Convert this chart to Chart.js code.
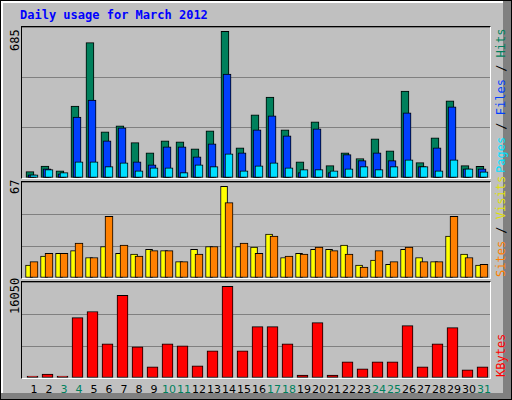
<!DOCTYPE html>
<html>
<head>
<meta charset="utf-8">
<script src="https://cdn.jsdelivr.net/npm/chart.js@4"></script>
<style>
  body { margin: 0; background: #fff; }
  #frame { position: absolute; left: 0; top: 0; width: 512px; height: 400px; box-sizing: border-box;
           background: #c0c0c0; border: 1px solid #000; }
  #bevelR { position: absolute; right: 0; top: 0; width: 8px; height: 100%; background: #808080; }
  #bevelB { position: absolute; left: 0; bottom: 0; height: 6px; width: 100%; background: #808080; }
  #bevelL { position: absolute; left: 0; top: 0; width: 2px; height: 100%; background: #fff; }
  #bevelT { position: absolute; left: 0; top: 0; height: 2px; width: 100%; background: #fff; }
  .box { position: absolute; left: 20px; width: 470px; box-sizing: border-box;
         border-top: 1px solid #000; border-left: 1px solid #000; border-right: 1px solid #fff; border-bottom: 1px solid #fff; }
  .box canvas { display: block; }
  .t { position: absolute; font-family: "DejaVu Sans Mono", monospace; white-space: nowrap; }
  .rot { transform: rotate(-90deg); transform-origin: 0 0; font-size: 12px; line-height: 12px; }
  .day { position: absolute; top: 382px; width: 20px; margin-left: -10px; text-align: center;
         font-family: "DejaVu Sans", sans-serif; font-size: 11px; }
</style>
</head>
<body>
<div id="frame">
  <div id="bevelL"></div><div id="bevelT"></div><div id="bevelR"></div><div id="bevelB"></div>
  <div class="t" style="left:19px;top:7px;font-size:12px;font-weight:bold;color:#0000ff">Daily usage for March 2012</div>
  <div class="box" style="top:25px;height:153px"><canvas id="c1" width="468" height="151"></canvas></div>
  <div class="box" style="top:180px;height:98px"><canvas id="c2" width="468" height="96"></canvas></div>
  <div class="box" style="top:280px;height:98px"><canvas id="c3" width="468" height="96"></canvas></div>
  <div class="t rot" style="left:8px;top:50px">685</div>
  <div class="t rot" style="left:8px;top:193px">67</div>
  <div class="t rot" style="left:8px;top:313px">16050</div>
  <div class="t rot" style="left:494px;top:172px"><span style="color:#00e0ff">Pages</span> / <span style="color:#0040ff">Files</span> / <span style="color:#00805c">Hits</span></div>
  <div class="t rot" style="left:494px;top:276px"><span style="color:#ff8000">Sites</span> / <span style="color:#e0e000">Visits</span></div>
  <div class="t rot" style="left:494px;top:376px"><span style="color:#ff0000">KBytes</span></div>
  <div id="days"></div>
</div>
<script>
const days = [];
for (let d = 1; d <= 31; d++) days.push(d);
const weekend = [3, 4, 10, 11, 17, 18, 24, 25, 31];

const hits = [30, 56, 33, 336, 632, 215, 243, 165, 118, 174, 169, 136, 220, 685, 141, 295, 378, 225, 76, 262, 58, 118, 91, 183, 127, 406, 72, 188, 360, 58, 55];
const files = [15, 43, 20, 285, 364, 174, 234, 76, 62, 146, 146, 99, 160, 485, 118, 225, 290, 197, 25, 229, 25, 109, 81, 118, 81, 304, 53, 141, 332, 43, 43];
const pages = [15, 39, 25, 76, 76, 53, 71, 34, 48, 48, 25, 62, 53, 113, 34, 57, 71, 48, 39, 39, 34, 43, 53, 39, 53, 85, 53, 34, 85, 43, 29];
const visits = [9.5, 16, 18, 20, 15, 23, 18, 17.5, 21, 20, 12, 21, 23, 67, 23, 22.6, 32, 15, 18, 21, 21, 24, 9.5, 13, 10, 21, 15, 12, 30.6, 17.5, 9.5];
const sites = [12, 18, 18, 25.5, 15, 45, 24, 16, 20, 20, 12, 17.5, 23, 55, 25.5, 18, 30.6, 16, 17.5, 22.6, 20, 17.5, 8, 20, 12, 22.6, 12, 12, 45, 15, 10];
const kbytes = [350, 700, 350, 10580, 11640, 6000, 14470, 5470, 1940, 6000, 5650, 2120, 4760, 16050, 4760, 9000, 9000, 6000, 530, 9700, 530, 2820, 1590, 2820, 2820, 9170, 1940, 6000, 8820, 1410, 1940];

const daysDiv = document.getElementById('days');
days.forEach(d => {
  const s = document.createElement('div');
  s.className = 'day';
  s.style.left = (18 + 15 * d) + 'px';
  s.style.color = weekend.includes(d) ? '#00805c' : '#000';
  s.textContent = d;
  daysDiv.appendChild(s);
});

// order: lower value is drawn on top
function ds(values, shift, color, width, order) {
  return {
    data: values.map((v, i) => ({ x: days[i] + shift, y: v })),
    backgroundColor: color, borderColor: '#000', borderWidth: 1,
    barThickness: width, grouped: false, borderSkipped: false, order: order
  };
}

function panel(id, datasets, ymax) {
  new Chart(document.getElementById(id), {
    type: 'bar',
    data: { datasets: datasets },
    options: {
      responsive: false, animation: false,
      layout: { padding: 0 },
      plugins: { legend: { display: false }, tooltip: { enabled: false } },
      scales: {
        x: { type: 'linear', min: 0.2, max: 31.4, offset: false, display: false },
        y: {
          min: 0, max: ymax, afterFit: s => { s.width = 0; },
          ticks: { display: false, stepSize: ymax / 3 },
          grid: { color: '#808080', drawTicks: false },
          border: { display: false }
        }
      }
    }
  });
}

panel('c1', [ds(hits, -0.27, '#00805c', 8, 2), ds(files, -0.13, '#0040ff', 8, 1), ds(pages, 0, '#00e0ff', 8, 0)], 705);
panel('c2', [ds(visits, -0.33, '#ffff00', 7, 1), ds(sites, 0, '#ff8000', 8, 0)], 70.1);
panel('c3', [ds(kbytes, -0.1, '#ff0000', 11, 0)], 16810);
</script>
</body>
</html>
